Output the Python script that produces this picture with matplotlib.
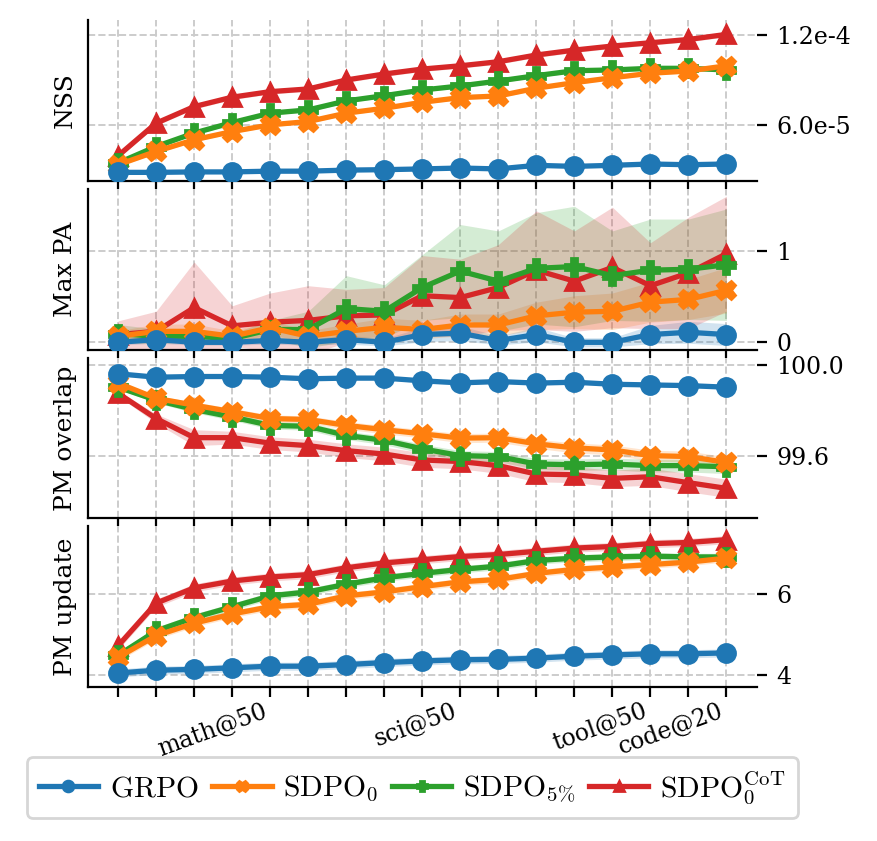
import numpy as np
import matplotlib
matplotlib.use("Agg")
import matplotlib.pyplot as plt
from matplotlib.ticker import FuncFormatter

plt.rcParams["font.family"] = "DejaVu Serif"
plt.rcParams["mathtext.fontset"] = "cm"

steps = list(range(17))
label_pos = [4, 9, 14, 16]
label_txt = ["math@50", "sci@50", "tool@50", "code@20"]

names = [r"$\mathrm{GRPO}$", r"$\mathrm{SDPO}_0$", r"$\mathrm{SDPO}_{5\%}$",
         r"$\mathrm{SDPO}_0^{\mathrm{CoT}}$"]
colors = ["#1f77b4", "#ff7f0e", "#2ca02c", "#d62728"]
markers = ["o", "X", "P", "^"]
ylabels = ["NSS", "Max PA", "PM overlap", "PM update"]

# NSS (x 1e-5)
nss_grpo = [2.82, 2.82, 2.85, 2.85, 2.9, 2.9, 2.97, 3.0, 3.05, 3.11, 3.05, 3.29, 3.22, 3.29, 3.38, 3.33, 3.38]
nss_sdpo0 = [3.33, 4.22, 5.0, 5.55, 6.0, 6.22, 6.78, 7.11, 7.51, 7.82, 7.93, 8.45, 8.82, 9.15, 9.45, 9.6, 9.95]
nss_sdpo5 = [3.45, 4.55, 5.45, 6.15, 6.78, 7.0, 7.6, 7.95, 8.33, 8.6, 8.93, 9.29, 9.62, 9.67, 9.78, 9.78, 9.67]
nss_cot = [3.93, 6.11, 7.22, 7.85, 8.22, 8.4, 9.0, 9.4, 9.73, 9.95, 10.22, 10.67, 11.0, 11.27, 11.49, 11.71, 12.05]
nss_sd_grpo = [0.1] * 17
nss_sd_sdpo0 = [0.12] * 17
nss_sd_sdpo5 = [0.12] * 17
nss_sd_cot = [0.16] * 17

# Max PA
pa_grpo = [0.0, 0.03, 0.0, 0.0, 0.02, 0.0, 0.03, 0.0, 0.085, 0.1, 0.02, 0.085, 0.0, 0.0, 0.085, 0.11, 0.085]
pa_sdpo0 = [0.066, 0.12, 0.12, 0.066, 0.16, 0.066, 0.12, 0.165, 0.14, 0.19, 0.19, 0.29, 0.33, 0.34, 0.44, 0.47, 0.57]
pa_sdpo5 = [0.095, 0.066, 0.066, 0.04, 0.14, 0.14, 0.37, 0.34, 0.6, 0.78, 0.67, 0.81, 0.83, 0.73, 0.79, 0.8, 0.85]
pa_cot = [0.085, 0.12, 0.38, 0.18, 0.22, 0.24, 0.29, 0.3, 0.51, 0.49, 0.6, 0.79, 0.67, 0.82, 0.62, 0.76, 0.97]
pa_sd_grpo = [0.03, 0.04, 0.03, 0.03, 0.04, 0.03, 0.05, 0.04, 0.08, 0.08, 0.05, 0.08, 0.05, 0.05, 0.1, 0.12, 0.12]
pa_sd_sdpo0 = [0.06, 0.08, 0.08, 0.06, 0.08, 0.06, 0.08, 0.1, 0.1, 0.12, 0.12, 0.15, 0.18, 0.2, 0.22, 0.22, 0.25]
pa_sd_sdpo5 = [0.1, 0.08, 0.06, 0.06, 0.1, 0.2, 0.36, 0.29, 0.36, 0.51, 0.55, 0.61, 0.66, 0.49, 0.56, 0.55, 0.61]
pa_sd_cot = [0.15, 0.22, 0.5, 0.22, 0.32, 0.38, 0.29, 0.3, 0.44, 0.42, 0.47, 0.65, 0.55, 0.66, 0.47, 0.61, 0.63]

# PM overlap
ov_grpo = [99.96, 99.945, 99.948, 99.948, 99.945, 99.938, 99.941, 99.941, 99.929, 99.92, 99.926, 99.919, 99.923, 99.914, 99.911, 99.908, 99.901]
ov_sdpo0 = [99.919, 99.852, 99.822, 99.793, 99.763, 99.759, 99.733, 99.714, 99.696, 99.677, 99.679, 99.652, 99.634, 99.625, 99.6, 99.596, 99.57]
ov_sdpo5 = [99.901, 99.844, 99.803, 99.77, 99.733, 99.729, 99.689, 99.667, 99.63, 99.6, 99.596, 99.563, 99.56, 99.563, 99.556, 99.556, 99.551]
ov_cot = [99.874, 99.763, 99.679, 99.679, 99.655, 99.644, 99.622, 99.607, 99.581, 99.574, 99.556, 99.519, 99.516, 99.5, 99.507, 99.481, 99.456]
ov_sd_grpo = [0.008] * 17
ov_sd_sdpo0 = [0.008, 0.012, 0.014, 0.015, 0.016, 0.016, 0.017, 0.018, 0.018, 0.02, 0.02, 0.02, 0.022, 0.022, 0.024, 0.024, 0.025]
ov_sd_sdpo5 = [0.008, 0.012, 0.014, 0.015, 0.016, 0.017, 0.018, 0.019, 0.02, 0.022, 0.022, 0.024, 0.025, 0.026, 0.028, 0.028, 0.03]
ov_sd_cot = [0.012, 0.02, 0.035, 0.028, 0.028, 0.028, 0.03, 0.03, 0.032, 0.032, 0.034, 0.034, 0.035, 0.036, 0.038, 0.04, 0.04]

# PM update
up_grpo = [4.04, 4.11, 4.13, 4.17, 4.21, 4.21, 4.25, 4.3, 4.34, 4.37, 4.38, 4.41, 4.46, 4.49, 4.52, 4.52, 4.54]
up_sdpo0 = [4.43, 4.97, 5.28, 5.51, 5.69, 5.75, 5.96, 6.06, 6.19, 6.31, 6.37, 6.52, 6.62, 6.68, 6.74, 6.8, 6.9]
up_sdpo5 = [4.48, 5.09, 5.42, 5.69, 5.96, 6.06, 6.25, 6.41, 6.52, 6.62, 6.7, 6.84, 6.9, 6.93, 6.95, 6.93, 6.93]
up_cot = [4.72, 5.78, 6.16, 6.33, 6.43, 6.49, 6.66, 6.78, 6.86, 6.94, 6.99, 7.07, 7.15, 7.19, 7.26, 7.29, 7.36]
up_sd_grpo = [0.1] * 17
up_sd_sdpo0 = [0.09] * 17
up_sd_sdpo5 = [0.09] * 17
up_sd_cot = [0.1] * 17

scale = [1e-5, 1, 1, 1]
panels = [
    ([nss_grpo, nss_sdpo0, nss_sdpo5, nss_cot], [nss_sd_grpo, nss_sd_sdpo0, nss_sd_sdpo5, nss_sd_cot]),
    ([pa_grpo, pa_sdpo0, pa_sdpo5, pa_cot], [pa_sd_grpo, pa_sd_sdpo0, pa_sd_sdpo5, pa_sd_cot]),
    ([ov_grpo, ov_sdpo0, ov_sdpo5, ov_cot], [ov_sd_grpo, ov_sd_sdpo0, ov_sd_sdpo5, ov_sd_cot]),
    ([up_grpo, up_sdpo0, up_sdpo5, up_cot], [up_sd_grpo, up_sd_sdpo0, up_sd_sdpo5, up_sd_cot]),
]
yticks = [[6e-5, 1.2e-4], [0, 1], [99.6, 100.0], [4, 6]]
ylims = [(2.25e-5, 1.3e-4), (-0.08, 1.68), (99.324, 100.031), (3.69, 7.69)]


def sci_fmt(v, pos):
    mant, ex = f"{v:.1e}".split("e")
    return f"{mant}e{int(ex)}"


fig, axes = plt.subplots(4, 1, sharex=True, figsize=(4.385, 4.205), dpi=200)
fig.subplots_adjust(left=0.100, right=0.863, top=0.976, bottom=0.183, hspace=0.05)

for k, ax in enumerate(axes):
    means, sds = panels[k]
    for j in range(4):
        m = np.array(means[j]) * scale[k]
        s = np.array(sds[j]) * scale[k]
        ax.fill_between(steps, m - s, m + s, color=colors[j], alpha=0.2, lw=0, zorder=1)
        ax.plot(steps, m, color=colors[j], marker=markers[j], lw=1.9, ms=6.5,
                label=names[j], zorder=6 - j)
    ax.set_ylim(*ylims[k])
    ax.yaxis.tick_right()
    ax.yaxis.set_label_position("left")
    ax.set_yticks(yticks[k])
    ax.set_ylabel(ylabels[k], fontsize=9, labelpad=4)
    ax.tick_params(axis="y", labelsize=8.5)
    ax.spines["top"].set_visible(False)
    ax.spines["right"].set_visible(False)
    ax.grid(True, ls="--", color="#cccccc", lw=0.7)
    ax.set_axisbelow(True)

axes[0].yaxis.set_major_formatter(FuncFormatter(sci_fmt))
axes[2].yaxis.set_major_formatter(FuncFormatter(lambda v, p: f"{v:.1f}"))

xlabels = [""] * len(steps)
for p, t in zip(label_pos, label_txt):
    xlabels[p] = t
axes[-1].set_xticks(steps)
axes[-1].set_xticklabels(xlabels, rotation=20, ha="right", fontsize=8.5)
axes[-1].tick_params(axis="x", pad=1)

handles, labels = axes[0].get_legend_handles_labels()
fig.legend(handles, labels, loc="upper center", bbox_to_anchor=(0.47, 0.10),
           ncol=4, fontsize=10.7, markerscale=0.6, handletextpad=0.4,
           columnspacing=0.45, handlelength=2.0, borderaxespad=0)

fig.savefig("out.png", dpi=200)
